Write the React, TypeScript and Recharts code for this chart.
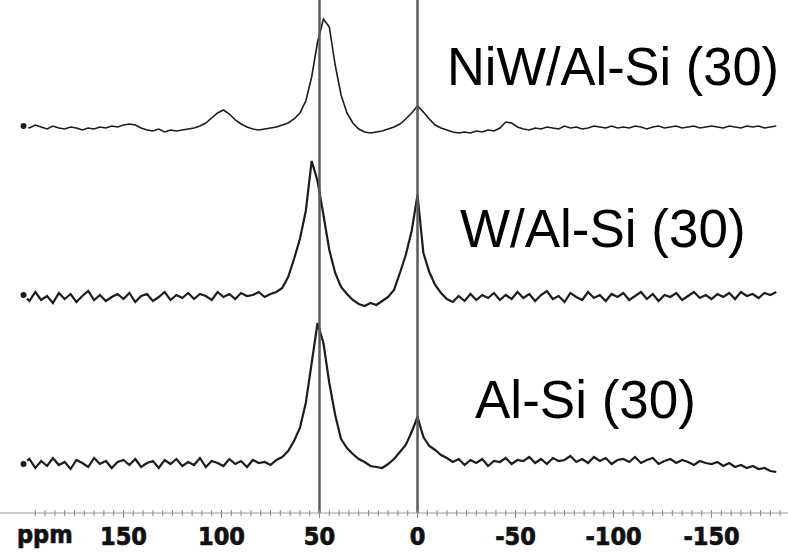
import React from "react";
import {
  ComposedChart,
  Line,
  XAxis,
  YAxis,
  ReferenceLine,
} from "recharts";

// chemical shift, ppm (x axis runs right to left)
const ppm = [
  201, 198, 195, 192, 189, 186, 183, 180, 177, 174, 171, 168, 165, 162, 159, 156, 153,
  150, 147, 144, 141, 138, 135, 132, 129, 126, 123, 120, 117, 114, 111, 108, 105, 102,
  99, 96, 93, 90, 87, 84, 81, 78, 75,
  72, 69, 66, 63, 60, 57, 54, 51, 48, 45, 42, 39, 36, 33, 30, 27, 24, 21, 18, 15, 12, 9, 6, 3,
  0,
  -3, -6, -9, -12, -15, -18, -21, -24, -27, -30, -33, -36, -39, -42, -45, -48, -51,
  -54, -57, -60, -63, -66, -69, -72, -75, -78, -81, -84, -87, -90, -93, -96, -99, -102,
  -105, -108, -111, -114, -117, -120, -123, -126, -129, -132, -135, -138, -141, -144, -147, -150,
  -153, -156, -159, -162, -165, -168, -171, -174, -177, -180, -183,
];

// intensities, relative to each trace's own baseline
const niwAlSi = [
  1, -1, 2, 0, -2, 1, -1, -2, 0, -1, -3, -1, -2, 0, -1, 1, 0,
  2, 3, 2, -1, -3, -4, -2, -5, -3, -4, -3, -2, -1, 1, 4, 9, 14,
  17, 13, 7, 3, 0, -2, -3, -2, -1,
  0, 2, 4, 8, 14, 26, 50, 85, 108, 100, 62, 32, 14, 4, -2, -5, -6, -5, -4, -2, 0, 3, 8, 14,
  21,
  15, 8, 2, -1, -3, -5, -6, -5, -6, -4, -5, -3, -4, -1, 5, 4, 0,
  -2, -3, -1, -2, 0, -1, -2, 1, -1, 0, -2, -1, 1, 0, -1, 1, -1,
  0, -1, 1, 0, -2, 0, 1, -1, 0, 1, -1, 0, 1, -1, 0, 1,
  0, -1, 1, 0, -1, 1, 0, 1, -1, 0, 1,
];

const wAlSi = [
  2, -4, 5, -3, 1, -6, 4, -2, 3, -5, 1, 6, -3, 2, -4, 0, 3,
  -2, 4, -5, 1, 3, -4, 0, 5, -3, 2, -1, 4, -2, 3, 1, -3, 5,
  0, 3, -2, 4, 1, 2, 5, 0, 3,
  5, 9, 20, 38, 58, 86, 136, 116, 82, 47, 24, 10, 3, -3, -7, -9, -6, -8, -4, 0, 7, 24, 42, 66,
  102,
  44, 25, 12, 4, -2, -5, 1, -4, 3, -3, 2, -1, 4, -3, 2, -2, 5,
  -1, 3, -4, 2, 6, -2, 1, -5, 4, 0, -3, 5, -1, 2, -4, 3, 0,
  4, -3, 1, 5, -2, 3, -4, 2, 0, 4, -3, 1, 5, -1, 2, -2,
  3, 0, 4, -2, 5, 1, 3, -1, 4, 2, 5,
];

const alSi = [
  -1, 4, -5, 2, -3, 5, -2, 1, -6, 3, 0, -4, 5, -1, 2, -5, 1,
  3, -2, 4, -4, 0, 2, -5, 3, -1, 4, -3, 1, -2, 5, -4, 2, 0,
  -3, 4, -1, 2, -4, 3, 0, 1, -2,
  3, 6, 12, 22, 35, 60, 100, 140, 120, 80, 48, 24, 15, 9, 4, 1, -3, -4, -5, -1, 4, 11, 18, 31,
  46,
  26, 17, 13, 8, 5, 1, 4, -2, 3, 0, 4, -3, 2, 1, 5, -1, 3,
  2, 6, 0, 4, -1, 5, 2, 3, 7, 1, 4, 0, 6, 2, 5, -1, 3,
  4, 1, 6, 0, 3, 5, -1, 2, 4, 0, 3, 1, -2, 2, 0, -1,
  1, -3, 0, -4, -2, -5, -3, -6, -5, -8, -9,
];

const seriesNames = ["NiW/Al-Si (30)", "W/Al-Si (30)", "Al-Si (30)"];
const majorTicks = [150, 100, 50, 0, -50, -100, -150];
const markerLines = [50, 0];

// vertical stacking of the three spectra
const OFFSET_NIW = 386;
const OFFSET_W = 216;
const OFFSET_ALSI = 50;

const data = ppm.map((p, i) => ({
  ppm: p,
  niw: niwAlSi[i] + OFFSET_NIW,
  w: wAlSi[i] + OFFSET_W,
  alsi: alSi[i] + OFFSET_ALSI,
}));

const minorTicks: number[] = [];
for (let t = 195; t >= -185; t -= 5) minorTicks.push(t);

const tickFont = "'DejaVu Sans Condensed', 'Liberation Sans Narrow', sans-serif";

const RulerTick = (props: any) => {
  const { x, y, payload } = props;
  const v = payload.value;
  const major = majorTicks.includes(v);
  return (
    <g>
      <line x1={x} x2={x} y1={y - 3} y2={y + (major ? 5 : 3)} stroke="#8a8a8a" strokeWidth={1} />
      {major && (
        <text
          x={x}
          y={y + 32}
          textAnchor="middle"
          fontFamily={tickFont}
          fontWeight={700}
          fontSize={25}
          fill="#111"
          stroke="#111"
          strokeWidth={0.7}
        >
          {v}
        </text>
      )}
    </g>
  );
};

const labelStyle = {
  fontFamily: "'Liberation Sans', Arial, sans-serif",
  fontSize: 53,
  fill: "#000",
};

export default function App() {
  return (
    <div style={{ position: "absolute", left: 0, top: 0, background: "#fff" }}>
      <ComposedChart
        width={788}
        height={552}
        data={data}
        margin={{ top: 0, right: 0, bottom: 0, left: 0 }}
      >
        <XAxis
          dataKey="ppm"
          type="number"
          domain={[-189, 213]}
          reversed
          ticks={minorTicks}
          interval={0}
          tickLine={false}
          tickSize={0}
          tickMargin={0}
          height={39}
          axisLine={{ stroke: "#9a9a9a" }}
          tick={<RulerTick />}
          label={{
            value: "ppm",
            position: "insideLeft",
            offset: 17,
            dy: 2,
            style: {
              fontFamily: tickFont,
              fontWeight: 700,
              fontSize: 25,
              fill: "#111",
              stroke: "#111",
              strokeWidth: 0.7,
            },
          }}
        />
        <YAxis hide domain={[0, 513]} />
        <Line
          dataKey="niw"
          type="linear"
          stroke="#1c1c1c"
          strokeWidth={1.6}
          dot={false}
          isAnimationActive={false}
        />
        <Line
          dataKey="w"
          type="linear"
          stroke="#1c1c1c"
          strokeWidth={2.2}
          dot={false}
          isAnimationActive={false}
        />
        <Line
          dataKey="alsi"
          type="linear"
          stroke="#1c1c1c"
          strokeWidth={2.2}
          dot={false}
          isAnimationActive={false}
        />
        {markerLines.map((m) => (
          <ReferenceLine key={m} x={m} stroke="#5a5a5a" strokeWidth={2.5} />
        ))}
        <text x={447} y={85} {...labelStyle} textLength={332} lengthAdjust="spacingAndGlyphs">
          {seriesNames[0]}
        </text>
        <text x={460} y={247} {...labelStyle}>
          {seriesNames[1]}
        </text>
        <text x={475} y={418} {...labelStyle}>
          {seriesNames[2]}
        </text>
      </ComposedChart>
    </div>
  );
}
